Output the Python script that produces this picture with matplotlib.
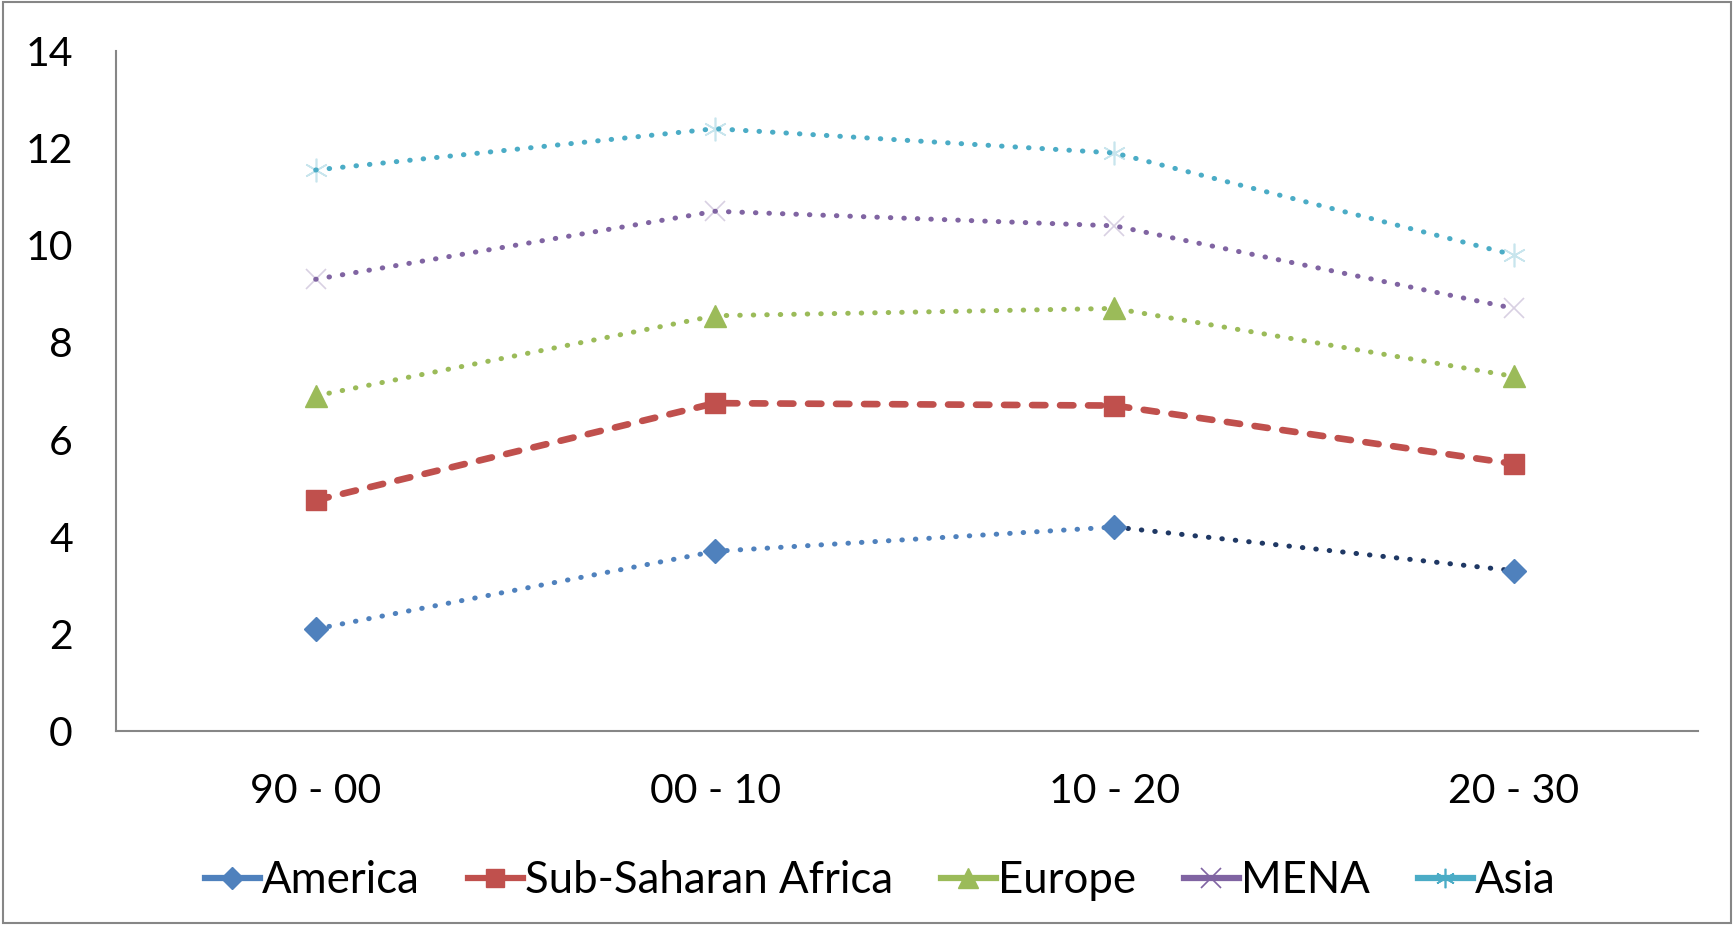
import matplotlib
matplotlib.use("Agg")
import matplotlib.pyplot as plt
from matplotlib.lines import Line2D
from matplotlib.patches import Rectangle

periods = ["90 - 00", "00 - 10", "10 - 20", "20 - 30"]
america = [2.1, 3.7, 4.2, 3.3]
ssa = [4.75, 6.75, 6.7, 5.5]
europe = [6.9, 8.55, 8.7, 7.3]
mena = [9.3, 10.7, 10.4, 8.7]
asia = [11.55, 12.4, 11.9, 9.8]

plt.rcParams['font.family'] = ['Lato', 'DejaVu Sans']

fig = plt.figure(figsize=(17.34, 9.25), dpi=100)
ax = fig.add_axes([0.0669, 0.2097, 0.9121, 0.7352])

x = list(range(len(periods)))
dots = (0, (0.1, 2.6))
dlw = 3.6

# America: last segment drawn in a darker blue
ax.plot(x[:3], america[:3], color='#4F81BD', lw=dlw, ls=dots, dash_capstyle='round')
ax.plot(x[2:], america[2:], color='#1F3864', lw=dlw, ls=dots, dash_capstyle='round')
ax.plot(x, america, ls='none', marker='D', ms=12, color='#4F81BD')

ax.plot(x, ssa, color='#C0504D', lw=4.8, ls=(0, (2.0, 2.2)), dash_capstyle='round',
        marker='s', ms=14, markerfacecolor='#C0504D', markeredgecolor='#C0504D')

ax.plot(x, europe, color='#9BBB59', lw=dlw, ls=dots, dash_capstyle='round')
ax.plot(x, europe, ls='none', marker='^', ms=16, color='#9BBB59')

ax.plot(x, mena, color='#8064A2', lw=dlw, ls=dots, dash_capstyle='round')
ax.plot(x, mena, ls='none', marker='x', ms=15, mew=1.2, color='#8064A2', alpha=0.3)

ax.plot(x, asia, color='#4BACC6', lw=dlw, ls=dots, dash_capstyle='round')
ax.plot(x, asia, ls='none', marker=(6, 2, 0), ms=17, mew=1.2, color='#4BACC6', alpha=0.3)

ax.set_xlim(-0.5, 3.46)
ax.set_ylim(0, 14)
ax.set_yticks(range(0, 15, 2))
ax.set_xticks(x)
ax.set_xticklabels(periods)
ax.tick_params(axis='both', length=0, labelsize=29.5, colors='black')
ax.tick_params(axis='y', pad=31)
ax.tick_params(axis='x', pad=30)
for s in ['top', 'right']:
    ax.spines[s].set_visible(False)
for s in ['left', 'bottom']:
    ax.spines[s].set_color('#868686')
    ax.spines[s].set_linewidth(1.5)

handles = [
    Line2D([], [], color='#4F81BD', lw=4.5, marker='D', ms=11),
    Line2D([], [], color='#C0504D', lw=4.5, marker='s', ms=13),
    Line2D([], [], color='#9BBB59', lw=4.5, marker='^', ms=14),
    Line2D([], [], color='#8064A2', lw=4.5, marker='x', ms=14, mew=1.2),
    Line2D([], [], color='#4BACC6', lw=4.5, marker=(6, 2, 0), ms=14, mew=1.2),
]
labels = ["America", "Sub-Saharan Africa", "Europe", "MENA", "Asia"]
fig.legend(handles, labels, loc='center', bbox_to_anchor=(0.5077, 0.048), ncol=5,
           frameon=False, fontsize=31.5, handlelength=1.25, handletextpad=0.05,
           columnspacing=1.1)

fig.patches.append(Rectangle((0.002, 0.002), 0.996, 0.996, transform=fig.transFigure,
                             fill=False, edgecolor='#868686', lw=1.5))

fig.savefig("out.png", dpi=100)
